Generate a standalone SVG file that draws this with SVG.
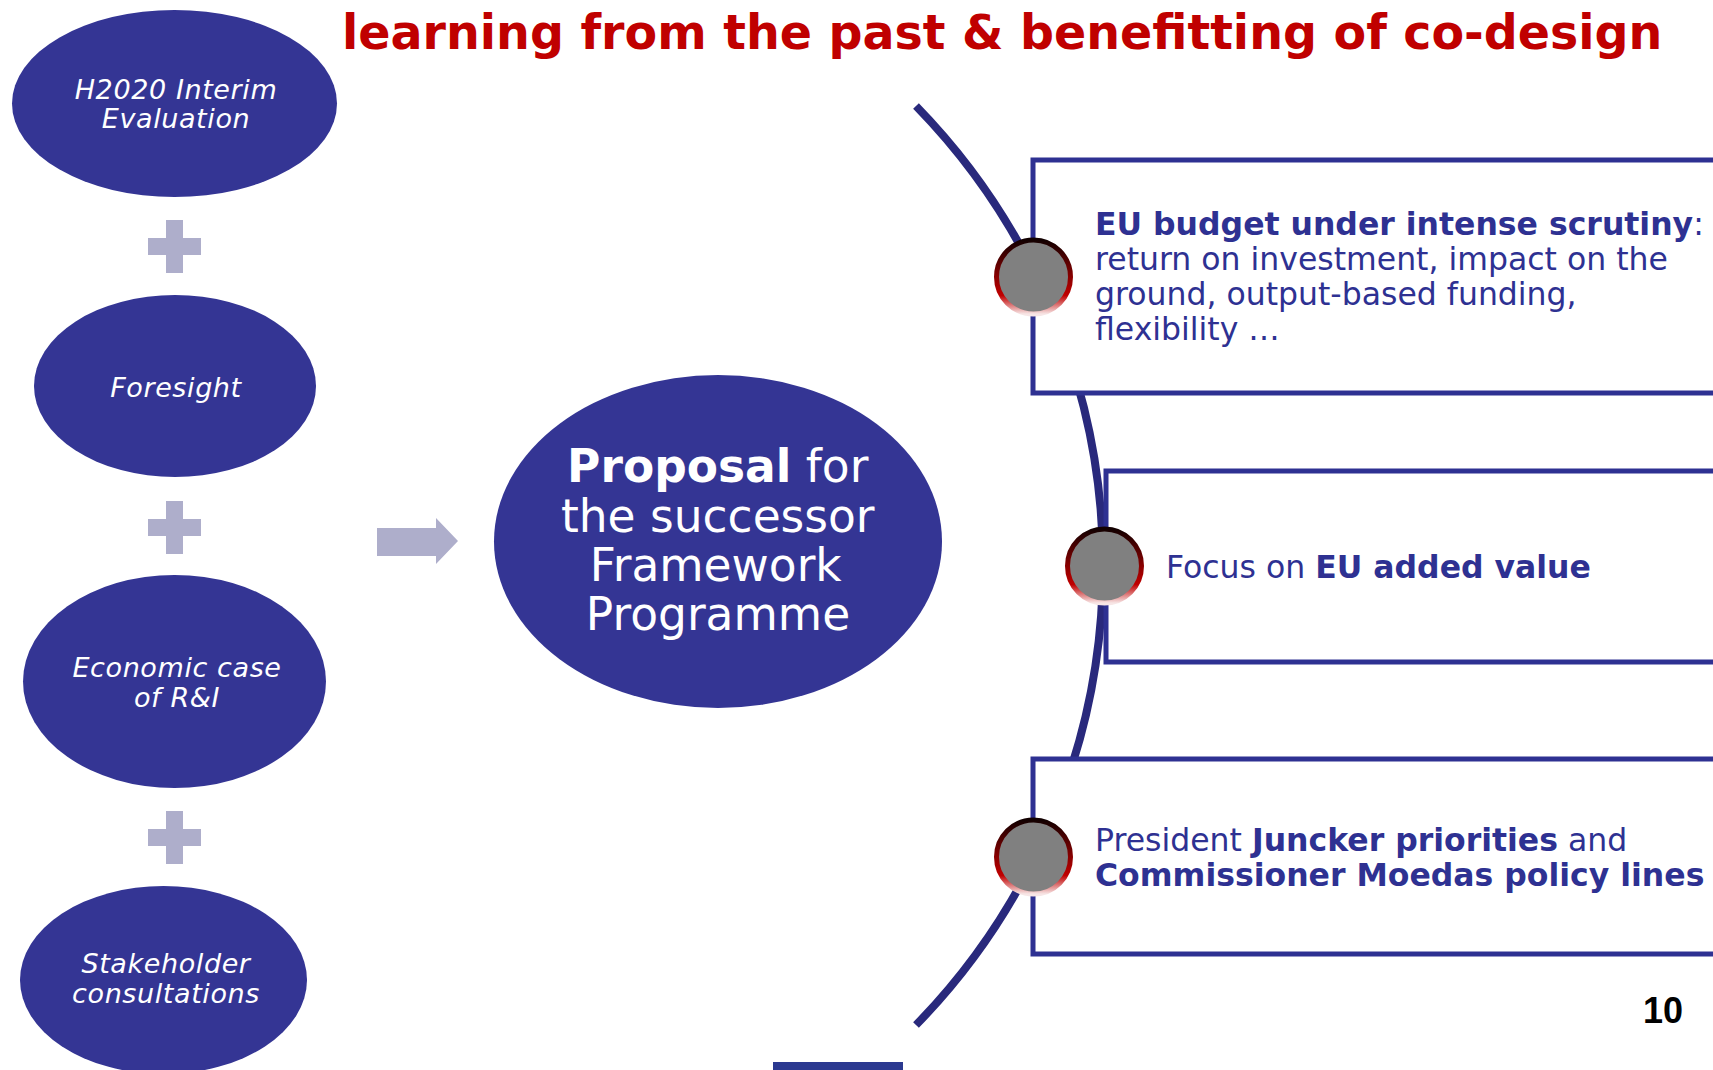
<svg xmlns="http://www.w3.org/2000/svg" width="1713" height="1070" viewBox="0 0 1713 1070">
<defs>
<style>
.oval{fill:#343594}
.otext{font-family:"DejaVu Sans",Verdana,sans-serif;font-style:italic;font-size:27px;fill:#ffffff;text-anchor:middle;letter-spacing:0.6px}
.plus{fill:#AEAECB}
.box{fill:#ffffff;stroke:#2E3192;stroke-width:5}
.btext{font-family:"DejaVu Sans",Verdana,sans-serif;font-size:31.5px;fill:#2E3192}
.b{font-weight:bold}
.dot{fill:#808080;stroke:url(#ring);stroke-width:5}
</style>
<linearGradient id="ring" x1="0" y1="0" x2="0" y2="1">
<stop offset="0" stop-color="#120000"/>
<stop offset="0.5" stop-color="#8A0000"/>
<stop offset="0.75" stop-color="#C00000"/>
<stop offset="1" stop-color="#F7E6E6"/>
</linearGradient>
</defs>
<rect width="1713" height="1070" fill="#ffffff"/>
<text x="342" y="49" font-family="'DejaVu Sans',Verdana,sans-serif" font-weight="bold" font-size="47.5" fill="#C00000">learning from the past &amp; benefitting of co-design</text>

<g id="connectors">
<path d="M 916 106 A 658 658 0 0 1 916 1025" fill="none" stroke="#29297C" stroke-width="8"/>
<polygon points="377,528 436,528 436,518 458,541 436,564 436,556 377,556" fill="#AEAECB"/>
</g>

<g id="node-h2020">
<ellipse class="oval" cx="174.5" cy="103.5" rx="162.5" ry="93.5"/>
<text class="otext" x="176" y="99">H2020 Interim</text>
<text class="otext" x="176" y="128">Evaluation</text>
</g>
<g id="plus-1"><rect class="plus" x="166" y="220" width="17" height="53"/><rect class="plus" x="148" y="238" width="53" height="17"/></g>
<g id="node-foresight">
<ellipse class="oval" cx="175" cy="386" rx="141" ry="91"/>
<text class="otext" x="176" y="397">Foresight</text>
</g>
<g id="plus-2"><rect class="plus" x="166" y="501" width="17" height="53"/><rect class="plus" x="148" y="519" width="53" height="17"/></g>
<g id="node-economic">
<ellipse class="oval" cx="174.5" cy="681.5" rx="151.5" ry="106.5"/>
<text class="otext" x="177" y="677">Economic case</text>
<text class="otext" x="177" y="707">of R&amp;I</text>
</g>
<g id="plus-3"><rect class="plus" x="166" y="811" width="17" height="53"/><rect class="plus" x="148" y="829" width="53" height="17"/></g>
<g id="node-stakeholder">
<ellipse class="oval" cx="163.5" cy="980" rx="143.5" ry="94"/>
<text class="otext" x="166" y="973">Stakeholder</text>
<text class="otext" x="166" y="1003">consultations</text>
</g>

<g id="node-proposal">
<ellipse class="oval" cx="718" cy="541.5" rx="224" ry="166.5"/>
<text font-family="'DejaVu Sans',Verdana,sans-serif" font-size="45.5" fill="#ffffff" text-anchor="middle">
<tspan x="725" y="482"><tspan font-weight="bold">Proposal</tspan> for</tspan>
<tspan x="725" y="532">the successor</tspan>
<tspan x="723" y="581">Framework</tspan>
<tspan x="718" y="630">Programme</tspan>
</text>
</g>

<g id="box-budget">
<rect class="box" x="1033" y="160" width="700" height="233"/>
<text class="btext"><tspan x="1095" y="235"><tspan class="b">EU budget under intense scrutiny</tspan>:</tspan>
<tspan x="1095" y="270">return on investment, impact on the</tspan>
<tspan x="1095" y="305">ground, output-based funding,</tspan>
<tspan x="1095" y="340">flexibility …</tspan></text>
</g>
<g id="box-added-value">
<rect class="box" x="1106" y="471" width="640" height="191"/>
<text class="btext" x="1166" y="578">Focus on <tspan class="b">EU added value</tspan></text>
</g>
<g id="box-priorities">
<rect class="box" x="1033" y="759" width="700" height="195"/>
<text class="btext"><tspan x="1095" y="851">President <tspan class="b">Juncker priorities</tspan> and</tspan>
<tspan x="1095" y="886" class="b">Commissioner Moedas policy lines</tspan></text>
</g>

<g id="dots">
<circle class="dot" cx="1033.5" cy="277" r="37"/>
<circle class="dot" cx="1104.5" cy="566" r="37"/>
<circle class="dot" cx="1033.5" cy="857" r="37"/>
</g>

<text x="1683" y="1023" font-family="'Liberation Sans',Arial,sans-serif" font-weight="bold" font-size="36" fill="#000000" text-anchor="end">10</text>
<rect x="773" y="1062" width="130" height="8" fill="#2B3990"/>
</svg>
